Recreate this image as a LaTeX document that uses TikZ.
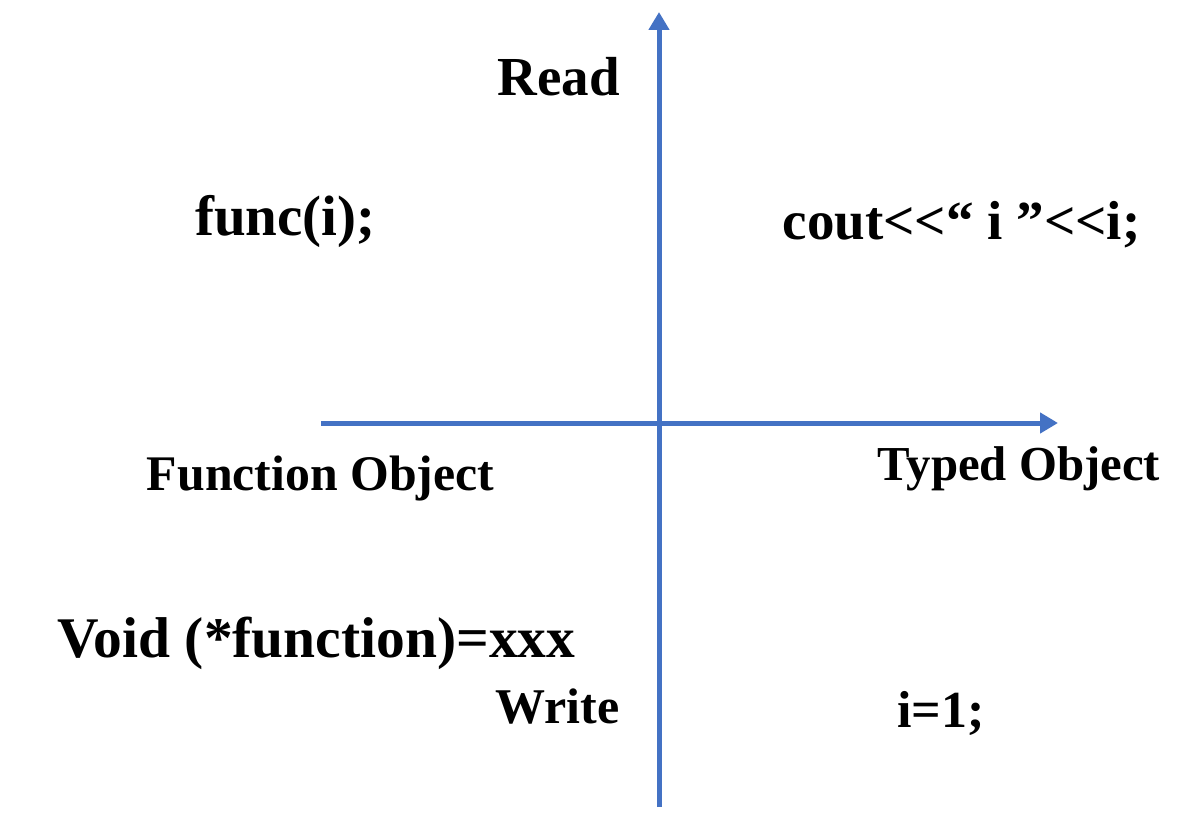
\documentclass[tikz,border=0pt]{standalone}
\usepackage{fontspec}
\setmainfont{Liberation Serif}
\usetikzlibrary{arrows.meta}
\definecolor{axisblue}{HTML}{4472C4}
\newcommand\fsz[1]{\fontsize{#1}{#1}\selectfont\bfseries}
\tikzset{
  axis/.style={line width=5pt,axisblue,-{Triangle[length=18pt,width=20pt]}},
  lbl/.style={anchor=base,inner sep=0pt}
}
\begin{document}
\begin{tikzpicture}[x=1pt,y=-1pt]
            \useasboundingbox (0,0) rectangle (1183,821);
            \coordinate (bottom) at (659,807);
            \coordinate (top) at (659,12);
            \coordinate (left) at (321,423);
            \coordinate (right) at (1058,423);
            \draw[axis] (bottom) -- (top);
            \draw[axis] (left) -- (right);
            \node[lbl] (read) at (558.5,96) {\fsz{55}Read};
            \node[lbl] (write) at (557.5,723) {\fsz{50}Write};
            \node[lbl] (fobj) at (320.5,490) {\fsz{49.8}Function Object};
            \node[lbl] (tobj) at (1019,480) {\fsz{48.8}Typed Object};
            \node[lbl] (func) at (285.5,235) {\fsz{57}func(i);};
            \node[lbl] (cout) at (961.5,240) {\fsz{55}cout<{}<“ i ”<{}<i;};
            \node[lbl] (void) at (316.5,657) {\fsz{57.5}Void (*function)=xxx};
            \node[lbl] (assign) at (941,727) {\fsz{52}i=1;};
        \end{tikzpicture}
\end{document}
